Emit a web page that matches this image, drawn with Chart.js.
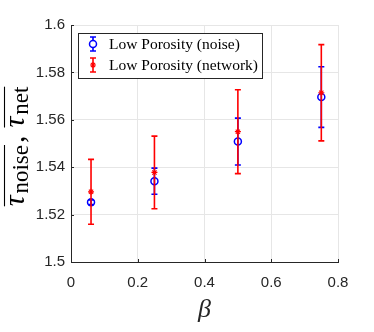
<!DOCTYPE html>
<html>
<head>
<meta charset="utf-8">
<script src="https://cdn.jsdelivr.net/npm/chart.js@4"></script>
<style>
  html, body { margin: 0; padding: 0; background: #fff; }
  canvas { display: block; }
</style>
</head>
<body>
<canvas id="chart" width="374" height="332"></canvas>
<script>
const betaValues = [0.06, 0.25, 0.5, 0.75];
const noiseMean = [1.5252, 1.5341, 1.5508, 1.5696];
const noiseErr = [0.001, 0.0055, 0.0099, 0.0128];
const netMean = [1.5296, 1.5378, 1.5550, 1.5714];
const netErr = [0.0137, 0.0153, 0.0177, 0.0203];
const seriesLabels = ['Low Porosity (noise)', 'Low Porosity (network)'];
const xTicks = [0, 0.2, 0.4, 0.6, 0.8];
const xTickLabels = ['0', '0.2', '0.4', '0.6', '0.8'];
const yTicks = [1.5, 1.52, 1.54, 1.56, 1.58, 1.6];
const yTickLabels = ['1.5', '1.52', '1.54', '1.56', '1.58', '1.6'];

const axisColor = '#262626';
const tickFont = { family: '"Liberation Sans", Arial, sans-serif', size: 15 };

// vertical error bars, drawn just before each dataset's markers
const errorBars = {
  id: 'errorBars',
  beforeDatasetDraw(chart, args) {
    const ds = chart.data.datasets[args.index];
    const { ctx, scales: { x, y } } = chart;
    ctx.save();
    ctx.strokeStyle = ds.borderColor;
    ctx.lineWidth = 1.6;
    ds.data.forEach((p, i) => {
      const px = x.getPixelForValue(p.x);
      const top = y.getPixelForValue(p.y + ds.errors[i]);
      const bot = y.getPixelForValue(p.y - ds.errors[i]);
      ctx.beginPath();
      ctx.moveTo(px, top); ctx.lineTo(px, bot);
      ctx.moveTo(px - 3, top); ctx.lineTo(px + 3, top);
      ctx.moveTo(px - 3, bot); ctx.lineTo(px + 3, bot);
      ctx.stroke();
    });
    ctx.restore();
  }
};

// inward tick marks, like the original
const innerTicks = {
  id: 'innerTicks',
  afterDraw(chart) {
    const { ctx, chartArea: a, scales: { x, y } } = chart;
    ctx.save();
    ctx.strokeStyle = axisColor;
    ctx.lineWidth = 1;
    ctx.beginPath();
    xTicks.forEach(v => {
      const px = Math.round(x.getPixelForValue(v)) + 0.5;
      ctx.moveTo(px, a.bottom); ctx.lineTo(px, a.bottom - 3);
    });
    yTicks.forEach(v => {
      const py = Math.round(y.getPixelForValue(v)) + 0.5;
      ctx.moveTo(a.left, py); ctx.lineTo(a.left + 3, py);
    });
    ctx.stroke();
    ctx.restore();
  }
};

// boxed legend inside the plot, with error-bar symbols
const boxLegend = {
  id: 'boxLegend',
  afterDraw(chart) {
    const { ctx, chartArea: a } = chart;
    const bx = a.left + 7, by = a.top + 8, bw = 184, bh = 45;
    ctx.save();
    ctx.fillStyle = '#fff';
    ctx.fillRect(bx, by, bw, bh);
    ctx.strokeStyle = axisColor;
    ctx.lineWidth = 1;
    ctx.strokeRect(bx + 0.5, by + 0.5, bw, bh);
    const order = [1, 0];
    order.forEach((di, row) => {
      const ds = chart.data.datasets[di];
      const cy = by + 11 + row * 21;
      const cx = bx + 15;
      ctx.strokeStyle = ds.borderColor;
      ctx.lineWidth = 1.6;
      ctx.beginPath();
      ctx.moveTo(cx, cy - 7); ctx.lineTo(cx, cy + 7);
      ctx.moveTo(cx - 3, cy - 7); ctx.lineTo(cx + 3, cy - 7);
      ctx.moveTo(cx - 3, cy + 7); ctx.lineTo(cx + 3, cy + 7);
      ctx.stroke();
      ctx.lineWidth = ds.borderWidth;
      Chart.helpers.drawPoint(ctx, {
        pointStyle: ds.pointStyle, radius: ds.pointRadius, borderWidth: ds.borderWidth
      }, cx, cy);
      ctx.fillStyle = '#000';
      ctx.font = '15.5px "Liberation Serif", serif';
      ctx.textBaseline = 'middle';
      ctx.fillText(ds.label, bx + 31, cy + 1);
    });
    ctx.restore();
  }
};

// y axis title: overlined tau with subscripts, rotated
const yTitle = {
  id: 'yTitle',
  afterDraw(chart) {
    const { ctx, chartArea: a } = chart;
    const big = 'italic 30px "Liberation Serif", serif';
    const sub = '23px "Liberation Serif", serif';
    const comma = '30px "Liberation Serif", serif';
    ctx.save();
    ctx.font = big; const wt = ctx.measureText('τ').width;
    ctx.font = sub; const wn = ctx.measureText('noise').width;
    const we = ctx.measureText('net').width;
    ctx.font = comma; const wc = ctx.measureText(',').width + 10;
    const w1 = wt + 2 + wn, w2 = wt + 2 + we;
    const total = w1 + wc + w2;
    ctx.translate(0, (a.top + a.bottom) / 2 + 3);
    ctx.rotate(-Math.PI / 2);
    ctx.fillStyle = '#000';
    ctx.textBaseline = 'alphabetic';
    let sx = -total / 2;
    const base = 24, subBase = 28;
    [[w1, 'noise'], [w2, 'net']].forEach(([w, s], k) => {
      ctx.font = big; ctx.fillText('τ', sx, base);
      ctx.font = sub; ctx.fillText(s, sx + wt + 2, subBase);
      ctx.strokeStyle = '#000'; ctx.lineWidth = 1.1;
      ctx.beginPath(); ctx.moveTo(sx, 4.5); ctx.lineTo(sx + w, 4.5); ctx.stroke();
      sx += w;
      if (k === 0) { ctx.font = comma; ctx.fillText(',', sx + 2, base); sx += wc; }
    });
    ctx.restore();
  }
};

new Chart(document.getElementById('chart'), {
  type: 'scatter',
  data: {
    datasets: [
      {
        label: seriesLabels[1],
        data: betaValues.map((b, i) => ({ x: b, y: netMean[i] })),
        errors: netErr,
        borderColor: '#ff0000',
        backgroundColor: '#ff0000',
        pointStyle: 'star',
        pointRadius: 3,
        borderWidth: 1.1
      },
      {
        label: seriesLabels[0],
        data: betaValues.map((b, i) => ({ x: b, y: noiseMean[i] })),
        errors: noiseErr,
        borderColor: '#0000ff',
        backgroundColor: 'rgba(0,0,0,0)',
        pointStyle: 'circle',
        pointRadius: 3.5,
        borderWidth: 1.5
      }
    ]
  },
  options: {
    responsive: false,
    devicePixelRatio: 1,
    animation: false,
    layout: { padding: { top: 25, right: 36, left: 0, bottom: 0 } },
    plugins: {
      legend: { display: false },
      tooltip: { enabled: false }
    },
    scales: {
      x: {
        type: 'linear',
        min: 0, max: 0.8,
        afterBuildTicks: s => { s.ticks = xTicks.map(v => ({ value: v })); },
        afterFit: s => { s.height = 70; },
        grid: { color: '#e6e6e6', drawTicks: false },
        border: { color: axisColor, width: 1 },
        ticks: {
          padding: 12,
          color: axisColor,
          font: tickFont,
          maxRotation: 0,
          callback: (v, i) => xTickLabels[i]
        },
        title: {
          display: true,
          text: 'β',
          color: axisColor,
          font: { family: '"Liberation Serif", serif', size: 26, style: 'italic', lineHeight: 1.4 }
        }
      },
      y: {
        type: 'linear',
        min: 1.5, max: 1.6,
        afterBuildTicks: s => { s.ticks = yTicks.map(v => ({ value: v })); },
        afterFit: s => { s.width = 71; },
        grid: { color: '#e6e6e6', drawTicks: false },
        border: { color: axisColor, width: 1 },
        ticks: {
          padding: 6,
          color: axisColor,
          font: tickFont,
          callback: (v, i) => yTickLabels[i]
        }
      }
    }
  },
  plugins: [errorBars, innerTicks, boxLegend, yTitle]
});
</script>
</body>
</html>
